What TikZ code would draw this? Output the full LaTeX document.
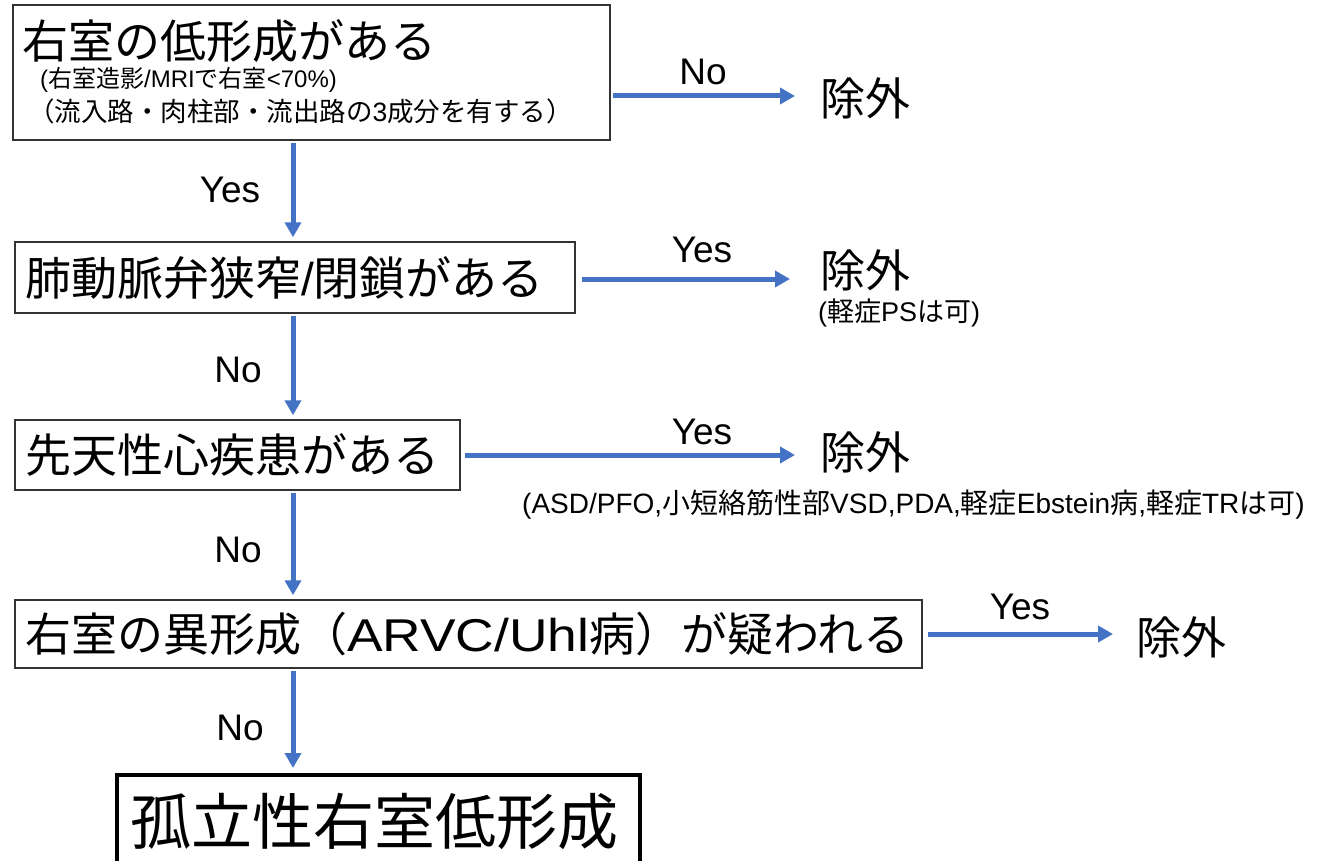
\documentclass[tikz,border=0pt]{standalone}
\usepackage{fontspec}
\usepackage{graphicx}
\setmainfont{Noto Sans CJK JP}
\newfontfamily\lat{Liberation Sans}
\usetikzlibrary{arrows.meta}
\definecolor{arrowblue}{HTML}{4472C4}
\definecolor{boxline}{HTML}{333333}
\tikzset{
  box/.style={draw=boxline, line width=1.5pt, rectangle, inner sep=0pt},
  endbox/.style={draw=black, line width=4pt, rectangle, inner sep=0pt},
  bigtxt/.style={font=\fontsize{46}{50}\selectfont, inner sep=0pt, anchor=west},
  hugetxt/.style={font=\fontsize{61}{66}\selectfont, inner sep=0pt, anchor=west},
  subtxt/.style={font=\fontsize{24}{28}\selectfont, inner sep=0pt, anchor=west},
  subtxtb/.style={font=\fontsize{26.5}{30}\selectfont, inner sep=0pt, anchor=west},
  smalltxt/.style={font=\fontsize{27}{30}\selectfont, inner sep=0pt, anchor=west},
  noteTxt/.style={font=\fontsize{28}{32}\selectfont, inner sep=0pt, anchor=west},
  yn/.style={font=\lat\fontsize{37}{40}\selectfont, inner sep=0pt},
  excl/.style={font=\fontsize{45}{50}\selectfont, inner sep=0pt, anchor=west},
  arr/.style={draw=arrowblue, line width=5pt, -{Triangle[length=15pt,width=16pt]}},
}
\begin{document}
\begin{tikzpicture}[x=1pt,y=-1pt]
\useasboundingbox (0,0) rectangle (1319,861);
\fill[white] (0,0) rectangle (1319,861);
\coordinate (vx) at (293,0);
% boxes
\node[box, minimum width=597pt, minimum height=135pt] (b1) at (311.5,72.5) {};
\node[bigtxt] (t1) at (22,41) {右室の低形成がある};
\node[subtxt] (t1a) at (40,80) {{\lat(}右室造影{\lat/MRI}で右室{\lat<70\%)}};
\node[subtxtb] (t1b) at (28,111) {（流入路・肉柱部・流出路の{\lat 3}成分を有する）};

\node[box, minimum width=560pt, minimum height=71pt] (b2) at (295,277.5) {};
\node[bigtxt] (t2) at (25,277.5) {肺動脈弁狭窄{\lat/}閉鎖がある};

\node[box, minimum width=445pt, minimum height=70pt] (b3) at (237.5,455) {};
\node[bigtxt] (t3) at (25,455) {先天性心疾患がある};

\node[box, minimum width=907pt, minimum height=68pt] (b4) at (468.5,634) {};
\node[bigtxt] (t4) at (25,634) {右室の異形成（\scalebox{1.16}[1]{\lat ARVC/Uhl}病）が疑われる};

\node[endbox, minimum width=523pt, minimum height=100pt] (b5) at (378.5,825) {};
\node[hugetxt] (t5) at (130,822) {孤立性右室低形成};

% exclusion labels
\node[excl] (e1) at (820,98) {除外};
\node[excl] (e2) at (820,270) {除外};
\node[smalltxt] (e2n) at (818,313) {{\lat(}軽症{\lat PS}は可{\lat)}};
\node[excl] (e3) at (820,452) {除外};
\node[noteTxt] (e3n) at (522,505) {{\lat(ASD/PFO,}小短絡筋性部{\lat VSD,PDA,}軽症{\lat Ebstein}病{\lat,}軽症{\lat TR}は可{\lat)}};
\node[excl] (e4) at (1136,637) {除外};

% horizontal arrows
\coordinate (h1s) at (613,96);  \coordinate (h1e) at (795,96);
\coordinate (h2s) at (582,279); \coordinate (h2e) at (790,279);
\coordinate (h3s) at (465,455); \coordinate (h3e) at (795,455);
\coordinate (h4s) at (928,634); \coordinate (h4e) at (1113,634);
\draw[arr] (h1s) -- (h1e);
\draw[arr] (h2s) -- (h2e);
\draw[arr] (h3s) -- (h3e);
\draw[arr] (h4s) -- (h4e);
\node[yn] (l1) at (703,72) {No};
\node[yn] (l2) at (702,250) {Yes};
\node[yn] (l3) at (702,432) {Yes};
\node[yn] (l4) at (1020,607) {Yes};

% vertical arrows
\draw[arr, shorten <=2pt, shorten >=4pt] (b1.south -| vx) -- (b2.north -| vx);
\draw[arr, shorten <=2pt, shorten >=4pt] (b2.south -| vx) -- (b3.north -| vx);
\draw[arr, shorten <=2pt, shorten >=4pt] (b3.south -| vx) -- (b4.north -| vx);
\draw[arr, shorten <=2pt, shorten >=5pt] (b4.south -| vx) -- (b5.north -| vx);
\node[yn] (v1) at (230,190) {Yes};
\node[yn] (v2) at (238,370) {No};
\node[yn] (v3) at (238,550) {No};
\node[yn] (v4) at (240,728) {No};
\end{tikzpicture}
\end{document}
